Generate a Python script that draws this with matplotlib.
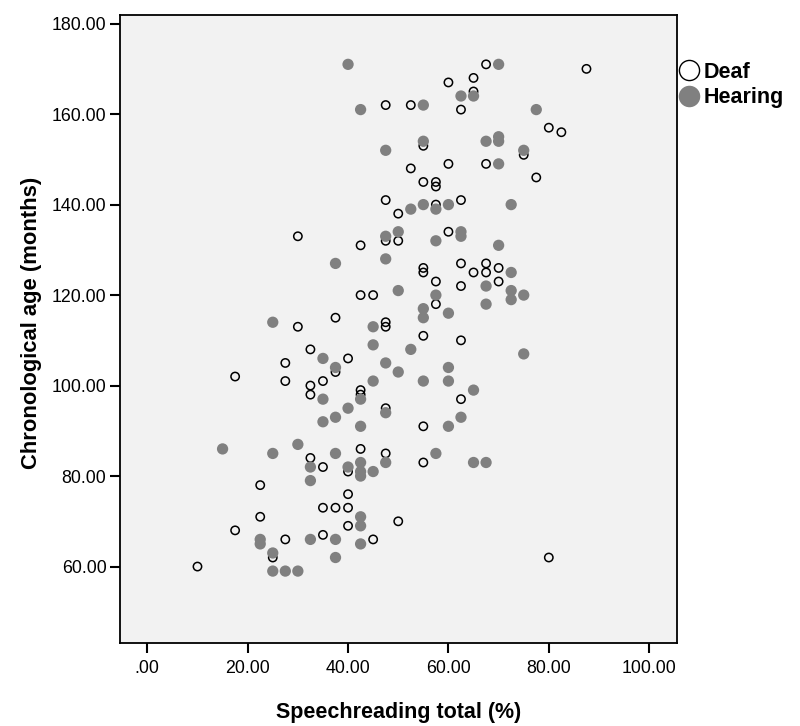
import matplotlib.pyplot as plt
from matplotlib.lines import Line2D

plt.rcParams['font.family'] = ['Liberation Sans', 'DejaVu Sans']

# Speechreading total (%) and chronological age (months).
deaf_x = [10, 17.5, 17.5, 22.5, 22.5, 25, 27.5, 27.5, 27.5, 30, 30, 32.5, 32.5, 32.5, 32.5,
          35, 35, 35, 35, 37.5, 37.5, 37.5, 40, 40, 40, 40, 40, 42.5, 42.5, 42.5, 42.5, 42.5,
          45, 45, 47.5, 47.5, 47.5, 47.5, 47.5, 47.5, 47.5, 50, 50, 50, 52.5, 52.5,
          55, 55, 55, 55, 55, 55, 55, 57.5, 57.5, 57.5, 57.5, 57.5, 60, 60, 60,
          62.5, 62.5, 62.5, 62.5, 62.5, 62.5, 65, 65, 65, 67.5, 67.5, 67.5, 67.5,
          70, 70, 75, 77.5, 80, 80, 82.5, 87.5]
deaf_y = [60, 68, 102, 71, 78, 62, 66, 101, 105, 113, 133, 84, 98, 100, 108,
          67, 73, 82, 101, 73, 103, 115, 69, 73, 76, 81, 106, 86, 98, 99, 120, 131,
          66, 120, 85, 95, 113, 114, 132, 141, 162, 70, 132, 138, 148, 162,
          83, 91, 111, 125, 126, 145, 153, 118, 123, 140, 144, 145, 134, 149, 167,
          97, 110, 122, 127, 141, 161, 125, 165, 168, 125, 127, 149, 171,
          123, 126, 151, 146, 62, 157, 156, 170]

hearing_x = [15, 22.5, 22.5, 25, 25, 25, 25, 27.5, 30, 30, 32.5, 32.5, 32.5, 35, 35, 35,
             37.5, 37.5, 37.5, 37.5, 37.5, 37.5, 40, 40, 40, 42.5, 42.5, 42.5, 42.5, 42.5,
             42.5, 42.5, 42.5, 42.5, 45, 45, 45, 45, 47.5, 47.5, 47.5, 47.5, 47.5, 47.5,
             50, 50, 50, 52.5, 52.5, 55, 55, 55, 55, 55, 55, 57.5, 57.5, 57.5, 57.5,
             60, 60, 60, 60, 60, 62.5, 62.5, 62.5, 62.5, 65, 65, 65, 67.5, 67.5, 67.5, 67.5,
             70, 70, 70, 70, 70, 72.5, 72.5, 72.5, 72.5, 75, 75, 75, 77.5]
hearing_y = [86, 65, 66, 59, 63, 85, 114, 59, 59, 87, 66, 79, 82, 92, 97, 106,
             62, 66, 85, 93, 104, 127, 82, 95, 171, 65, 69, 71, 80, 81,
             83, 91, 97, 161, 81, 101, 109, 113, 83, 94, 105, 128, 133, 152,
             103, 121, 134, 108, 139, 101, 115, 117, 140, 154, 162, 85, 120, 132, 139,
             91, 101, 104, 116, 140, 93, 133, 134, 164, 83, 99, 164, 83, 118, 122, 154,
             131, 149, 154, 155, 171, 119, 121, 125, 140, 107, 120, 152, 161]

x_ticks = [0, 20, 40, 60, 80, 100]
x_tick_labels = ['.00', '20.00', '40.00', '60.00', '80.00', '100.00']
y_ticks = [60, 80, 100, 120, 140, 160, 180]
y_tick_labels = ['60.00', '80.00', '100.00', '120.00', '140.00', '160.00', '180.00']

fig = plt.figure(figsize=(8, 7.26), dpi=100)
ax = fig.add_axes([0.1496, 0.1143, 0.6964, 0.8650])
ax.set_facecolor('#f2f2f2')

ax.scatter(deaf_x, deaf_y, s=36, facecolors='none', edgecolors='black', linewidths=1.1, zorder=2)
ax.scatter(hearing_x, hearing_y, s=66, color='#808080', edgecolors='none', zorder=3)

ax.set_xlim(-5.5, 105.5)
ax.set_ylim(43.1, 181.9)
ax.set_xticks(x_ticks)
ax.set_xticklabels(x_tick_labels)
ax.set_yticks(y_ticks)
ax.set_yticklabels(y_tick_labels)
ax.tick_params(axis='both', direction='out', length=7.5, width=1.5, labelsize=12.8)
ax.tick_params(axis='x', pad=5)
ax.tick_params(axis='y', pad=2)
for sp in ax.spines.values():
    sp.set_linewidth(1.3)

ax.set_xlabel('Speechreading total (%)', fontsize=15.5, fontweight='bold', va='center')
ax.xaxis.set_label_coords(0.5, -0.11)
ax.set_ylabel('Chronological age (months)', fontsize=15.8, fontweight='bold', va='center')
ax.yaxis.set_label_coords(-0.159, 0.51)

handles = [
    Line2D([], [], linestyle='none', marker='o', markersize=14.5, markerfacecolor='none',
           markeredgecolor='black', markeredgewidth=1.0),
    Line2D([], [], linestyle='none', marker='o', markersize=15.5, markerfacecolor='#808080',
           markeredgecolor='none'),
]
leg = ax.legend(handles, ['Deaf', 'Hearing'], loc='upper left', bbox_to_anchor=(679 / 800, 1 - 62 / 726),
                bbox_transform=fig.transFigure, frameon=False, handlelength=0.9, handletextpad=0.25,
                borderpad=0, borderaxespad=0, labelspacing=0.2, prop={'size': 15.5, 'weight': 'bold'})

plt.savefig('out.png')
plt.close()
